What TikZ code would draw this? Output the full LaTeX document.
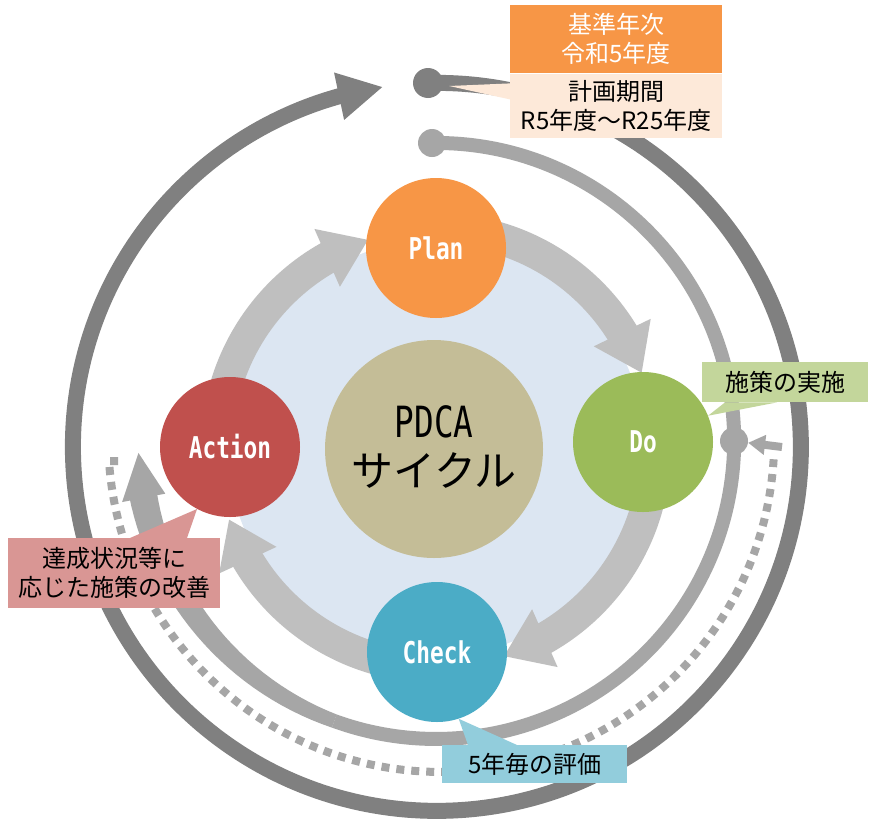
\documentclass[tikz,border=0pt]{standalone}
\usepackage{fontspec}
\setmainfont{Noto Sans CJK JP}
\newfontfamily\condmono[FakeStretch=0.76]{DejaVu Sans Mono}
\usepackage{tikz}
\usetikzlibrary{arrows.meta,bending,positioning}

\definecolor{planorange}{HTML}{F79646}
\definecolor{dogreen}{HTML}{9BBB59}
\definecolor{checkblue}{HTML}{4BACC6}
\definecolor{actred}{HTML}{C0504D}
\definecolor{pdcatan}{HTML}{C4BD97}
\definecolor{discblue}{HTML}{DCE6F2}
\definecolor{ringlight}{HTML}{BFBFBF}
\definecolor{ringmid}{HTML}{A6A6A6}
\definecolor{ringdark}{HTML}{808080}
\definecolor{peach}{HTML}{FDE9D9}
\definecolor{labgreen}{HTML}{C3D69B}
\definecolor{labred}{HTML}{D99694}
\definecolor{labblue}{HTML}{92CDDC}

\begin{document}
\begin{tikzpicture}[x=1pt,y=1pt,
    phase/.style={circle,minimum size=140pt,inner sep=0pt,text=white,font=\condmono\bfseries\fontsize{30}{30}\selectfont},
    cyclearrow/.style={ringlight,line width=32pt,-{Triangle[length=45pt,width=60pt,flex]}},
    ringdot/.style={circle,inner sep=0pt,minimum size=#1},
    note/.style={inner sep=0pt,align=center,font=\fontsize{24}{29}\selectfont},
    bigtext/.style={inner sep=0pt,font=\fontsize{42}{42}\selectfont}]
      \path[use as bounding box,fill=white] (0,-822) rectangle (872,0);

      \node[circle,fill=discblue,minimum size=416pt,inner sep=0pt] (disc) at (436,-448) {};
      \coordinate (hub) at (436,-448);
      \foreach \s/\e in {180/108,90/20,0/-72,-90/-161}
        \draw[cyclearrow] ([shift={(\s:219)}]hub) arc[start angle=\s,end angle=\e,radius=219];

      \node[ringdot=30pt,fill=ringdark] (startDark) at (428,-83) {};
      \node[ringdot=28pt,fill=ringmid] (startMid) at (432,-143) {};
      \node[ringdot=28pt,fill=ringmid] (doMid) at (734,-441) {};
      \coordinate (midC) at (436.2,-441);
      \coordinate (loopStart) at (118,-461);
      \coordinate (loopEnd) at (782,-447);

      \draw[ringdark,line width=16pt,-{Triangle[length=45pt,width=45pt,flex]}]
        (startDark.center) arc[start angle=91.4,end angle=-261.5,radius=364];
      \draw[ringmid,line width=14pt] (startMid.center) arc[start angle=90.8,end angle=-110,radius=298];
      \begin{scope}[shift={(midC)}]
        \fill[ringmid] plot[domain=-110:-170,samples=30] (\x:{305+7*(-110-\x)/60})
          -- plot[domain=-170:-110,samples=30] (\x:{291-7*(-110-\x)/60}) -- cycle;
        \fill[ringmid] (-177.7:298) -- (-169:320) -- (-169:276) -- cycle;
      \end{scope}
      \draw[ringmid,line width=8pt,dash pattern=on 8pt off 7pt]
        (loopStart) -- ++(-9,0) arc[start angle=183.8,end angle=356.5,radius=333];
      \draw[ringmid,line width=8pt,-{Triangle[length=17pt,width=19pt]}] (loopEnd) -- (doMid);

      \node[phase,fill=planorange] (Plan) at (436,-248) {Plan};
      \node[phase,fill=dogreen] (Do) at (643,-442) {Do};
      \node[phase,fill=checkblue] (Check) at (437,-652) {Check};
      \node[phase,fill=actred] (Action) at (230,-447) {Action};

      \node[circle,fill=pdcatan,minimum size=218pt,inner sep=0pt] (core) at (434,-449) {};
      \node[bigtext,font=\condmono\fontsize{43}{43}\selectfont] (pdcaTitle) at (434,-422) {PDCA};
      \node[bigtext] (cycleTitle) at (434,-471) {サイクル};

      \node[note,fill=planorange,text=white,minimum width=212pt,minimum height=68pt,anchor=north west] (base) at (510,-5) {基準年次\\令和5年度};
      \node[note,fill=peach,minimum width=212pt,minimum height=64pt,anchor=north] (term) at (base.south) {計画期間\\R5年度～R25年度};
      \fill[peach] ([yshift=-10pt]term.north west) -- ([yshift=-26pt]term.north west) -- ([xshift=6pt,yshift=-3pt]startDark.east) -- cycle;

      \node[note,fill=labgreen,minimum width=166pt,minimum height=40pt,anchor=north west] (impl) at (702,-362) {施策の実施};
      \fill[labgreen] ([xshift=23pt]impl.south west) -- ([xshift=75pt]impl.south west) -- (Do.22) -- cycle;

      \node[note,fill=labred,minimum width=212pt,minimum height=70pt,anchor=north west] (improve) at (8,-538) {達成状況等に\\応じた施策の改善};
      \fill[labred] ([xshift=122pt]improve.north west) -- ([xshift=179pt]improve.north west) -- (Action.-118) -- cycle;

      \node[note,fill=labblue,minimum width=185pt,minimum height=38pt,anchor=north west] (review) at (442,-745) {5年毎の評価};
      \fill[labblue] ([xshift=26pt]review.north west) -- ([xshift=75pt]review.north west) -- (Check.-72) -- cycle;
\end{tikzpicture}
\end{document}
